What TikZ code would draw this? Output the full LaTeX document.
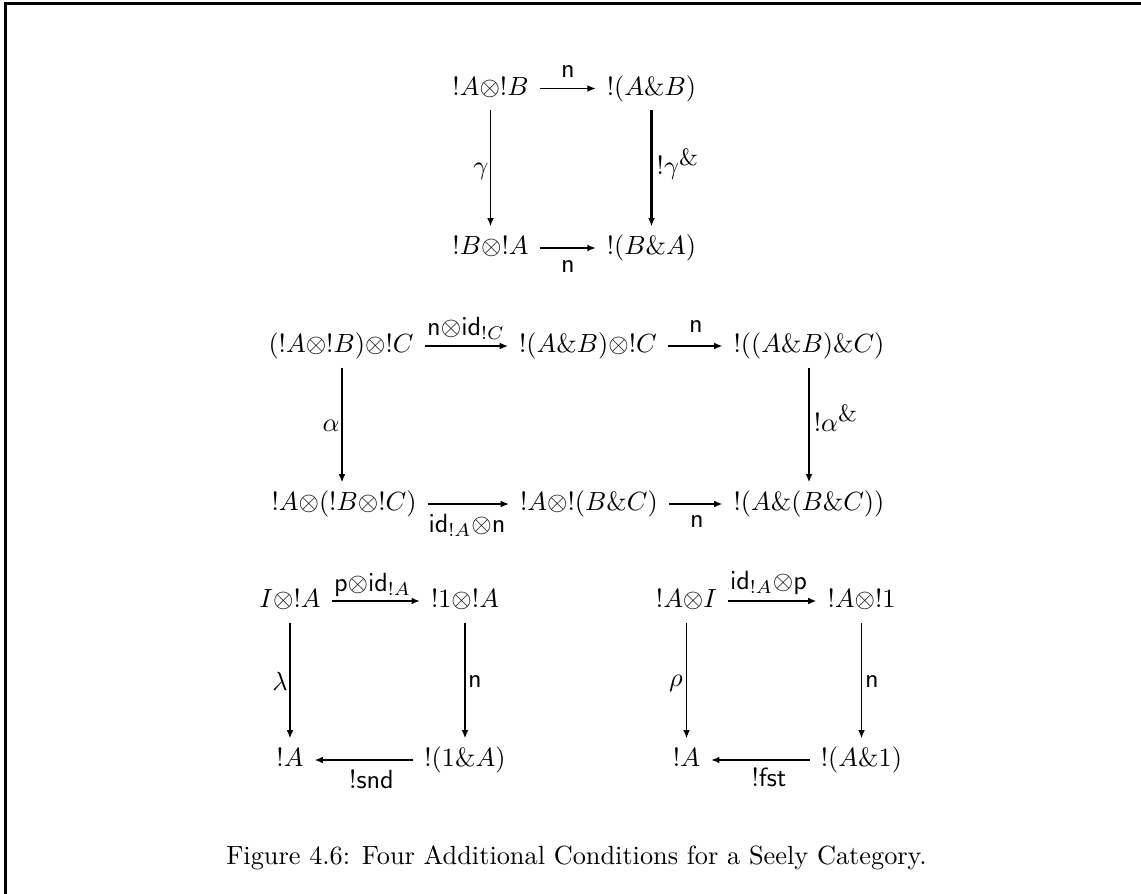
\documentclass[tikz,border=0pt]{standalone}
\usepackage{amsmath}
\usetikzlibrary{arrows.meta}
\begin{document}
\begin{tikzpicture}[x=0.3802pt,y=-0.3802pt,
  obj/.style={inner xsep=4pt,inner ysep=3pt,text height=7.5pt,text depth=2.5pt},
  lbl/.style={inner sep=0pt},
  arr/.style={-{Latex[length=3.2pt,width=2.6pt]},line width=0.65pt},
  heavy/.style={line width=1.1pt},
  frameline/.style={line width=1.15pt}]
\useasboundingbox (0,0) rectangle (1141,894);
\draw[frameline] (4,3.5) -- (1141,3.5);
\draw[frameline] (5.5,2) -- (5.5,894);
% Diagram 1
\node[obj] (a11) at (490.5,88.5) {$!A{\otimes}!B$};
\node[obj] (a12) at (651.5,88.5) {$!(A\&B)$};
\node[obj] (a21) at (490.5,248) {$!B{\otimes}!A$};
\node[obj] (a22) at (651.5,248) {$!(B\&A)$};
\draw[arr] (a11) -- (a12);
\draw[arr] (a21) -- (a22);
\draw[arr] (a11) -- (a21);
\draw[arr,heavy] (a12) -- (a22);
\node[lbl] (la1) at (568,72) {$\mathsf{n}$};
\node[lbl] (la2) at (568,267) {$\mathsf{n}$};
\node[lbl] (la3) at (481,171) {$\gamma$};
\node[lbl] (la4) at (678,164) {$!\gamma^{\mbox{\small\&}}$};
% Diagram 2
\node[obj] (b11) at (341,346) {$(!A{\otimes}!B){\otimes}!C$};
\node[obj] (b12) at (588,346) {$!(A\&B){\otimes}!C$};
\node[obj] (b13) at (809,346) {$!((A\&B)\&C)$};
\node[obj] (b21) at (344,504) {$!A{\otimes}(!B{\otimes}!C)$};
\node[obj] (b22) at (589,504) {$!A{\otimes}!(B\&C)$};
\node[obj] (b23) at (809,504) {$!(A\&(B\&C))$};
\draw[arr] (b11) -- (b12);
\draw[arr] (b12) -- (b13);
\draw[arr] (b11.south -| 342,0) -- (b21.north -| 342,0);
\draw[arr] (b13) -- (b23);
\draw[arr,heavy] (b21) -- (b22);
\draw[arr,heavy] (b22) -- (b23);
\node[lbl] (lb1) at (466,328) {$\mathsf{n}{\otimes}\mathsf{id}_{!C}$};
\node[lbl] (lb2) at (696,327) {$\mathsf{n}$};
\node[lbl] (lb3) at (331,426) {$\alpha$};
\node[lbl] (lb4) at (836,418) {$!\alpha^{\mbox{\small\&}}$};
\node[lbl] (lb5) at (467,525) {$\mathsf{id}_{!A}{\otimes}\mathsf{n}$};
\node[lbl] (lb6) at (697,522) {$\mathsf{n}$};
% Diagram 3
\node[obj] (c11) at (290,601) {$I{\otimes}!A$};
\node[obj] (c12) at (465,601) {$!1{\otimes}!A$};
\node[obj] (c21) at (290,760) {$!A$};
\node[obj] (c22) at (465,760) {$!(1\&A)$};
\draw[arr] (c11) -- (c12);
\draw[arr,heavy] (c11) -- (c21);
\draw[arr] (c12) -- (c22);
\draw[arr,heavy] (c22) -- (c21);
\node[lbl] (lc1) at (372.5,585) {$\mathsf{p}{\otimes}\mathsf{id}_{!A}$};
\node[lbl] (lc2) at (280,681) {$\lambda$};
\node[lbl] (lc3) at (475,682) {$\mathsf{n}$};
\node[lbl] (lc4) at (371.5,779) {$\mathsf{!snd}$};
% Diagram 4
\node[obj] (d11) at (686.5,601) {$!A{\otimes}I$};
\node[obj] (d12) at (861.5,601) {$!A{\otimes}!1$};
\node[obj] (d21) at (686.5,760) {$!A$};
\node[obj] (d22) at (861.5,760) {$!(A\&1)$};
\draw[arr] (d11) -- (d12);
\draw[arr] (d11) -- (d21);
\draw[arr] (d12) -- (d22);
\draw[arr,heavy] (d22) -- (d21);
\node[lbl] (ld1) at (768.5,583) {$\mathsf{id}_{!A}{\otimes}\mathsf{p}$};
\node[lbl] (ld2) at (676,683) {$\rho$};
\node[lbl] (ld3) at (872,682) {$\mathsf{n}$};
\node[lbl] (ld4) at (769,777) {$\mathsf{!fst}$};
% Caption
\node[lbl] (cap) at (576.5,858) {Figure 4.6: Four Additional Conditions for a Seely Category.};
\end{tikzpicture}
\end{document}
